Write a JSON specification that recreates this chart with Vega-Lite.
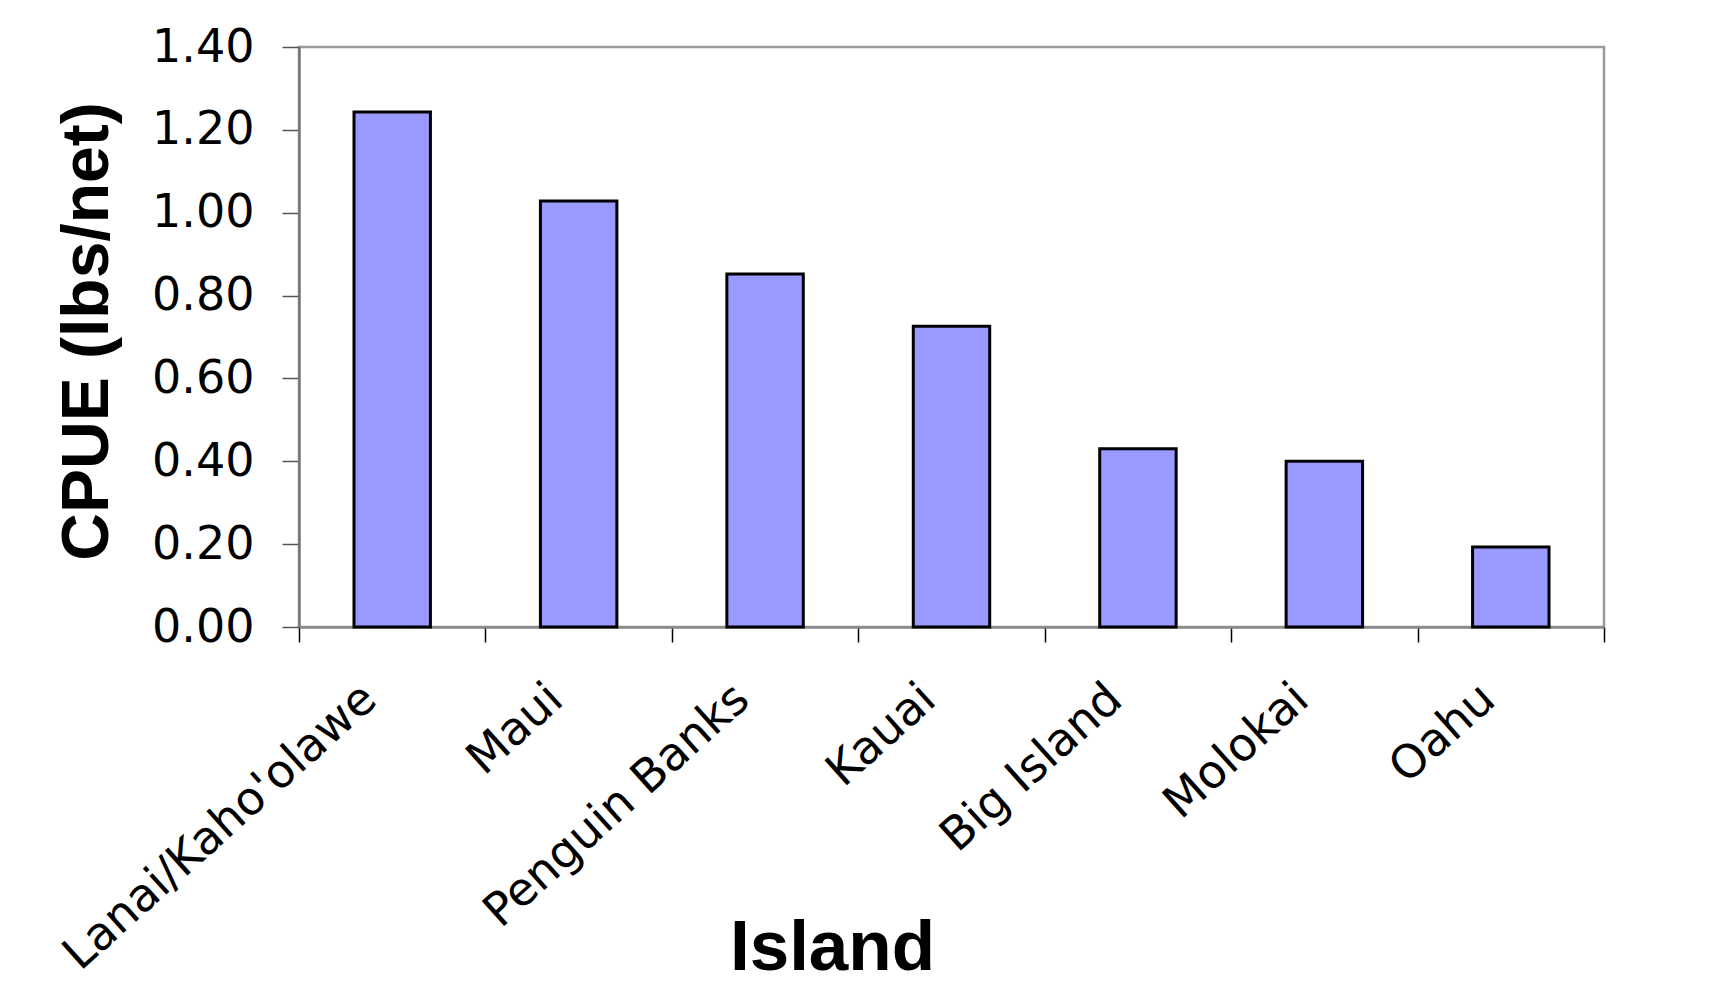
{
  "$schema": "https://vega.github.io/schema/vega-lite/v6.json",
  "width": 1305,
  "height": 580,
  "autosize": {"type": "none"},
  "padding": {"left": 299, "top": 47, "right": 108, "bottom": 370},
  "background": "#ffffff",
  "data": {
    "values": [
      {"island": "Lanai/Kaho'olawe", "cpue": 1.243},
      {"island": "Maui", "cpue": 1.028},
      {"island": "Penguin Banks", "cpue": 0.852},
      {"island": "Kauai", "cpue": 0.726},
      {"island": "Big Island", "cpue": 0.43},
      {"island": "Molokai", "cpue": 0.4},
      {"island": "Oahu", "cpue": 0.193}
    ]
  },
  "mark": {
    "type": "bar",
    "width": {"band": 0.41},
    "fill": "#9999ff",
    "stroke": "#000000",
    "strokeWidth": 3
  },
  "encoding": {
    "x": {
      "field": "island",
      "type": "nominal",
      "sort": null,
      "scale": {"paddingInner": 0, "paddingOuter": 0},
      "axis": {
        "title": "Island",
        "titleFont": "Liberation Sans",
        "titleFontSize": 71,
        "titleFontWeight": "bold",
        "titleColor": "#000000",
        "titleX": 533,
        "titleY": 342,
        "titleAlign": "center",
        "titleBaseline": "alphabetic",
        "labelAngle": -42,
        "labelAlign": "right",
        "labelBaseline": "middle",
        "labelFont": "DejaVu Sans",
        "labelFontSize": 46,
        "labelColor": "#000000",
        "labelPadding": 50,
        "labelOffset": -23,
        "labelOverlap": false,
        "labelLimit": 0,
        "tickBand": "extent",
        "tickColor": "#000000",
        "tickWidth": 1.5,
        "tickSize": 15,
        "domainColor": "#8a8a8a",
        "domainWidth": 2.5,
        "grid": false
      }
    },
    "y": {
      "field": "cpue",
      "type": "quantitative",
      "scale": {"domain": [0, 1.4], "nice": false},
      "axis": {
        "title": "CPUE (lbs/net)",
        "titleFont": "Liberation Sans",
        "titleFontSize": 66,
        "titleFontWeight": "bold",
        "titleColor": "#000000",
        "titleAngle": -90,
        "titleX": -192,
        "titleY": 284,
        "titleAlign": "center",
        "titleBaseline": "alphabetic",
        "values": [0, 0.2, 0.4, 0.6, 0.8, 1.0, 1.2, 1.4],
        "format": ".2f",
        "labelFont": "DejaVu Sans",
        "labelFontSize": 46,
        "labelColor": "#000000",
        "labelPadding": 28,
        "labelBaseline": "middle",
        "tickColor": "#555555",
        "tickWidth": 1.5,
        "tickSize": 17,
        "domainColor": "#777777",
        "domainWidth": 2.5,
        "grid": false
      }
    }
  },
  "config": {
    "view": {"stroke": "#999999", "strokeWidth": 2.5, "fill": "#ffffff"}
  }
}
